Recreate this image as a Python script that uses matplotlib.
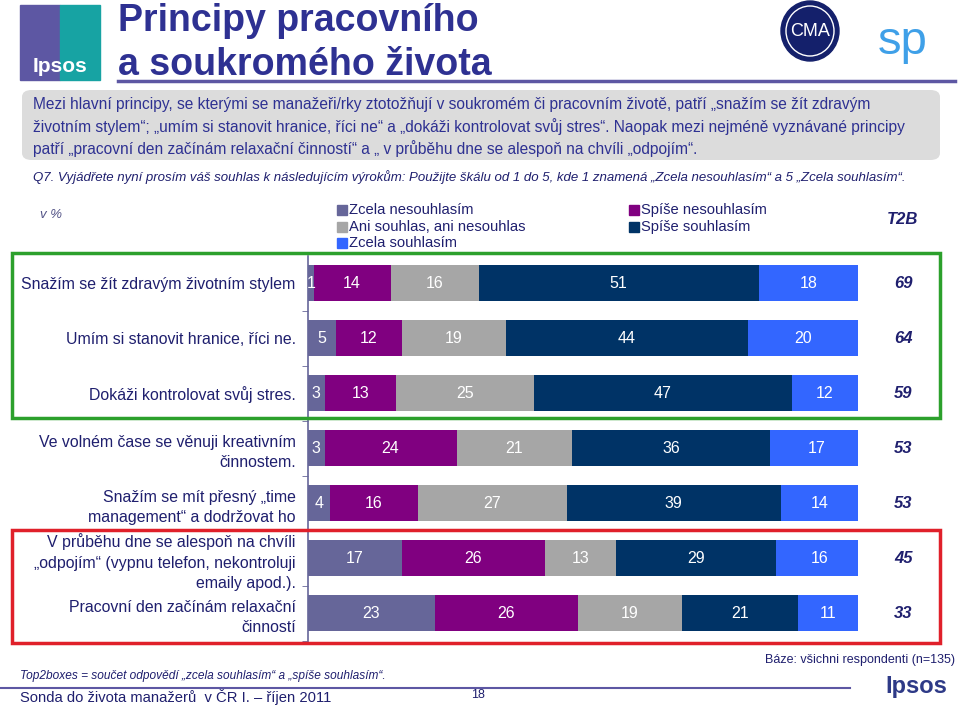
import matplotlib
matplotlib.use("Agg")
from matplotlib import pyplot as plt
from matplotlib.patches import Rectangle, FancyBboxPatch, Ellipse
import numpy as np

plt.rcParams['font.family'] = ['Liberation Sans', 'DejaVu Sans']

# -------- data ----------
categories = [
    "Snažím se žít zdravým životním stylem",
    "Umím si stanovit hranice, říci ne.",
    "Dokáži kontrolovat svůj stres.",
    "Ve volném čase se věnuji kreativním\nčinnostem.",
    "Snažím se mít přesný „time\nmanagement“ a dodržovat ho",
    "V průběhu dne se alespoň na chvíli\n„odpojím“ (vypnu telefon, nekontroluji\nemaily apod.).",
    "Pracovní den začínám relaxační\nčinností",
]
series_names = ["Zcela nesouhlasím", "Spíše nesouhlasím", "Ani souhlas, ani nesouhlas",
                "Spíše souhlasím", "Zcela souhlasím"]
zcela_ne = [1, 5, 3, 3, 4, 17, 23]
spise_ne = [14, 12, 13, 24, 16, 26, 26]
ani = [16, 19, 25, 21, 27, 13, 19]
spise_ano = [51, 44, 47, 36, 39, 29, 21]
zcela_ano = [18, 20, 12, 17, 14, 16, 11]
t2b = [69, 64, 59, 53, 53, 45, 33]

colors = ["#666699", "#800080", "#a6a6a6", "#003366", "#3366ff"]
navy = "#2e3192"
textc = "#1f1f6e"

W, H = 960, 706
fig = plt.figure(figsize=(9.6, 7.06), dpi=100)


def P(x, y):
    return x / W, 1 - y / H


# -------- header ----------
fig.patches.append(Rectangle(P(20, 80), 40 / W, 75 / H, transform=fig.transFigure,
                             color="#5d57a3", zorder=1))
fig.patches.append(Rectangle(P(60, 80), 40 / W, 75 / H, transform=fig.transFigure,
                             color="#17a3a3", zorder=1))
fig.text(*P(60, 66), "Ipsos", color="white", fontsize=15, fontweight="bold",
         ha="center", va="center")

fig.text(*P(118, 21), "Principy pracovního", color=navy, fontsize=27, fontweight="bold",
         ha="left", va="center")
fig.text(*P(118, 65), "a soukromého života", color=navy, fontsize=27, fontweight="bold",
         ha="left", va="center")
fig.lines.append(plt.Line2D([118 / W, 955 / W], [1 - 81 / H, 1 - 81 / H],
                            transform=fig.transFigure, color="#5d57a3", lw=2.5))

# CMA logo
fig.patches.append(Ellipse(P(810, 31), 58 / W, 60 / H, transform=fig.transFigure,
                           color="#14206b", zorder=2))
fig.patches.append(Ellipse(P(810, 31), 48 / W, 50 / H, transform=fig.transFigure,
                           fill=False, ec="white", lw=1, zorder=3))
fig.text(*P(810, 32), "CMA", color="white", fontsize=13, ha="center", va="center", zorder=4)
fig.text(*P(903, 42), "sp", color="#3fa0e8", fontsize=34, ha="center", va="center")

# gray summary box
box = FancyBboxPatch(P(22, 160), 918 / W, 70 / H, transform=fig.transFigure,
                     boxstyle="round,pad=0,rounding_size=0.01", fc="#dcdcdc", ec="none")
fig.patches.append(box)
summary = [
    "Mezi hlavní principy, se kterými se manažeři/rky ztotožňují v soukromém či pracovním životě, patří „snažím se žít zdravým",
    "životním stylem“; „umím si stanovit hranice, říci ne“ a „dokáži kontrolovat svůj stres“. Naopak mezi nejméně vyznávané principy",
    "patří „pracovní den začínám relaxační činností“ a „ v průběhu dne se alespoň na chvíli „odpojím“.",
]
for i, line in enumerate(summary):
    fig.text(*P(33, 105 + i * 22), line, color=navy, fontsize=11.2, ha="left", va="center")

fig.text(*P(33, 177), "Q7. Vyjádřete nyní prosím váš souhlas k následujícím výrokům: Použijte škálu od 1 do 5, "
         "kde 1 znamená „Zcela nesouhlasím“ a 5 „Zcela souhlasím“.",
         color=textc, fontsize=9.5, style="italic", ha="left", va="center")

fig.text(*P(40, 215), "v %", color="#555588", fontsize=9.5, style="italic", ha="left", va="center")

# legend
leg_pos = [(337, 210), (629, 210), (337, 227), (629, 227), (337, 243)]
for k, (lx, ly) in enumerate(leg_pos):
    fig.patches.append(Rectangle(P(lx, ly + 5), 10 / W, 10 / H, transform=fig.transFigure,
                                 color=colors[k]))
    fig.text(*P(lx + 12, ly), series_names[k], color=textc, fontsize=10.6,
             ha="left", va="center")
fig.text(*P(903, 220), "T2B", color=textc, fontsize=12, fontweight="bold", style="italic",
         ha="center", va="center")

# -------- bars ----------
ax = fig.add_axes([308 / W, 1 - 640.5 / H, 550 / W, 385 / H])
y = np.arange(len(categories))
data = [zcela_ne, spise_ne, ani, spise_ano, zcela_ano]
left = np.zeros(len(categories))
for vals, c in zip(data, colors):
    vals = np.array(vals)
    ax.barh(y, vals, left=left, height=0.64, color=c, zorder=2)
    for yi, (l, v) in enumerate(zip(left, vals)):
        ax.text(l + v / 2, yi, str(v), color="white", fontsize=11.5,
                ha="center", va="center", zorder=3)
    left = left + vals

for yi, v in enumerate(t2b):
    ax.text(108.2, yi, str(v), color=textc, fontsize=12, fontweight="bold", style="italic",
            ha="center", va="center")

ax.set_xlim(0, 100)
ax.set_ylim(len(categories) - 0.5, -0.5)
ax.set_yticks(y)
ax.set_yticklabels(categories, fontsize=11.4, color=textc, ha="right")
for t in ax.get_yticklabels():
    t.set_linespacing(1.45)
ax.tick_params(axis="y", length=0, pad=9)
ax.set_yticks(np.arange(len(categories)) + 0.5, minor=True)
ax.tick_params(axis="y", which="minor", length=4, color="#666699", direction="out")
ax.set_xticks([])
for s in ["top", "right", "bottom"]:
    ax.spines[s].set_visible(False)
ax.spines["left"].set_color("#666699")
ax.spines["left"].set_linewidth(1.2)
ax.patch.set_alpha(0)

# highlight boxes
fig.patches.append(Rectangle(P(12, 418), 928 / W, 165 / H, transform=fig.transFigure,
                             fill=False, ec="#2ca02c", lw=2.5, zorder=5))
fig.patches.append(Rectangle(P(12, 643), 928 / W, 113 / H, transform=fig.transFigure,
                             fill=False, ec="#e0202a", lw=2.5, zorder=5))

# -------- footer ----------
fig.text(*P(955, 660), "Báze: všichni respondenti (n=135)", color=textc, fontsize=9,
         ha="right", va="center")
fig.text(*P(20, 676), "Top2boxes = součet odpovědí „zcela souhlasím“ a „spíše souhlasím“.",
         color=textc, fontsize=8.6, style="italic", ha="left", va="center")
fig.lines.append(plt.Line2D([0, 850 / W], [1 - 688 / H, 1 - 688 / H],
                            transform=fig.transFigure, color="#5d57a3", lw=1.5))
fig.text(*P(20, 697), "Sonda do života manažerů  v ČR I. – říjen 2011", color=textc,
         fontsize=10.6, ha="left", va="center")
fig.text(*P(478, 695), "18", color=textc, fontsize=9, ha="center", va="center")
fig.text(*P(916, 686), "Ipsos", color="#2e3a87", fontsize=17, fontweight="bold",
         ha="center", va="center")

fig.savefig("out.png", dpi=100)
